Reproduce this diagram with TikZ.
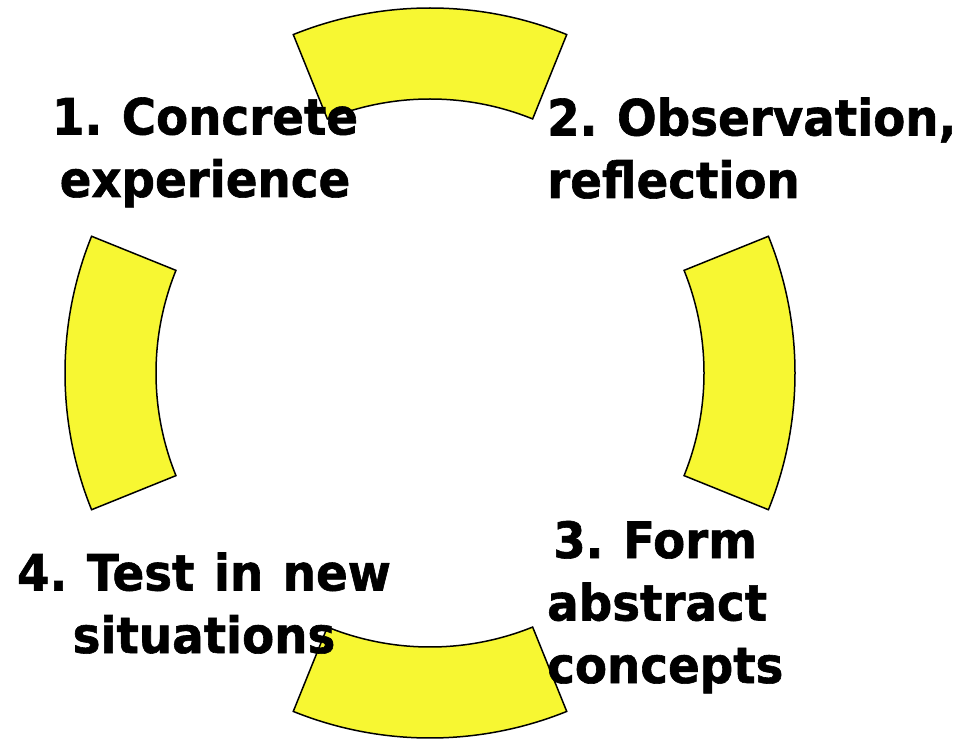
\documentclass[tikz,border=0pt]{standalone}
\usepackage{fontspec}
\setmainfont{DejaVu Sans}[BoldFeatures={FakeStretch=0.935,FakeBold=1.2,WordSpace=1.2}]
\definecolor{ringyellow}{RGB}{247,247,50}
\begin{document}
\frenchspacing
\begin{tikzpicture}[x=1pt,y=1pt,
  segment/.style={fill=ringyellow,draw=black,line width=1.5pt,line join=miter},
  label/.style={font=\bfseries\fontsize{50}{62.5}\selectfont,inner sep=0pt,anchor=base}]
\useasboundingbox (0,0) rectangle (957,739);
% cycle ring: four annular segments around the centre
\coordinate (c) at (430,366);
\foreach \a in {0,90,180,270}{
  \draw[segment,shift={(c)}] (\a-22:365) arc[start angle=\a-22,end angle=\a+22,radius=365]
    -- (\a+22:274) arc[start angle=\a+22,end angle=\a-22,radius=274] -- cycle;
}
% stage labels (anchored on the baseline of their last line)
\node[label,align=center] (s1) at (205,542) {1. Concrete\\experience};
\node[label,align=left,anchor=base west] (s2) at (547,541) {2. Observation,\\reflection};
\node[label,align=left,anchor=base west] (s3) at (547,56) {\hspace{6pt}3. Form\\abstract\\concepts};
\node[label,align=center] (s4) at (204,86) {4. Test in new\\situations};
\end{tikzpicture}
\end{document}
